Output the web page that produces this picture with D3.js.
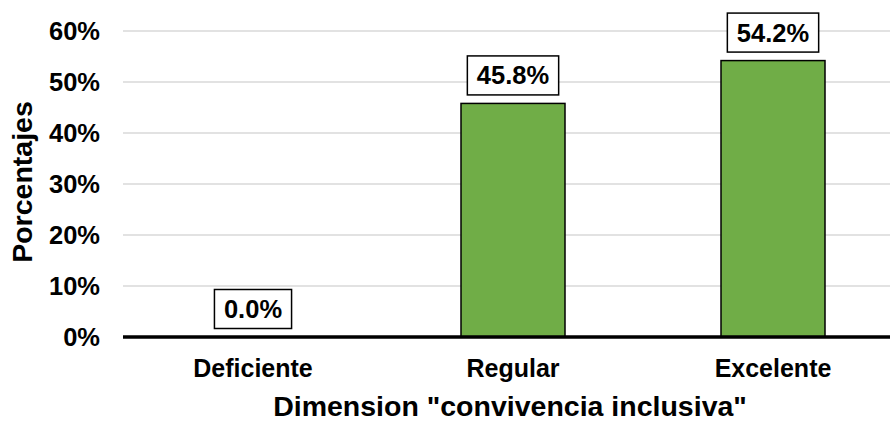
<!DOCTYPE html>
<html>
<head>
<meta charset="utf-8">
<script src="https://cdn.jsdelivr.net/npm/d3@7"></script>
<style>
html,body{margin:0;padding:0;background:#fff;}
svg{display:block;font-family:"Liberation Sans",Arial,sans-serif;font-weight:bold;}
</style>
</head>
<body>
<svg id="chart" width="890" height="421"></svg>
<script>
const categories = ["Deficiente", "Regular", "Excelente"];
const values = [0.0, 45.8, 54.2];
const tickValues = [0, 10, 20, 30, 40, 50, 60];
const yTitle = "Porcentajes";
const xTitle = 'Dimension "convivencia inclusiva"';

(function() {
const svg = d3.select("#chart");
const W = 890;
const mLeft = 123, mRight = 903, mTop = 31, mBottom = 337;

const x = d3.scaleBand().domain(categories).range([mLeft, mRight])
  .paddingInner(0.6).paddingOuter(0.3);
const y = d3.scaleLinear().domain([0, 60]).range([mBottom, mTop]);

// gridlines
svg.append("g").selectAll("line").data(tickValues.filter(d => d > 0)).join("line")
  .attr("x1", mLeft).attr("x2", W)
  .attr("y1", d => y(d)).attr("y2", d => y(d))
  .attr("stroke", "#d9d9d9").attr("stroke-width", 1.5);

// y tick labels
svg.append("g").selectAll("text").data(tickValues).join("text")
  .attr("x", 100).attr("y", d => y(d))
  .attr("text-anchor", "end").attr("dominant-baseline", "central")
  .attr("font-size", 25.5).attr("fill", "#000")
  .text(d => d + "%");

// bars
svg.append("g").selectAll("rect").data(categories).join("rect")
  .attr("x", d => x(d)).attr("width", x.bandwidth())
  .attr("y", (d, i) => y(values[i]))
  .attr("height", (d, i) => mBottom - y(values[i]))
  .attr("fill", "#70ad47").attr("stroke", "#000").attr("stroke-width", 1.5);

// axis line
svg.append("line").attr("x1", mLeft).attr("x2", W)
  .attr("y1", y(0)).attr("y2", y(0))
  .attr("stroke", "#000").attr("stroke-width", 3.5);

// data labels
const lbl = svg.append("g").selectAll("g").data(categories).join("g");
lbl.each(function(d, i) {
  const g = d3.select(this);
  const cx = x(d) + x.bandwidth() / 2;
  const boxBottom = y(values[i]) - 8.5;
  const boxH = 39;
  const t = g.append("text")
    .attr("x", cx).attr("y", boxBottom - boxH / 2)
    .attr("text-anchor", "middle").attr("dominant-baseline", "central")
    .attr("font-size", 25.5).attr("fill", "#000")
    .text(values[i].toFixed(1) + "%");
  const tw = t.node().getComputedTextLength();
  g.insert("rect", "text")
    .attr("x", cx - tw / 2 - 9.5).attr("width", tw + 19)
    .attr("y", boxBottom - boxH).attr("height", boxH)
    .attr("fill", "#fff").attr("stroke", "#000").attr("stroke-width", 1.5);
});

// category labels
svg.append("g").selectAll("text").data(categories).join("text")
  .attr("x", d => x(d) + x.bandwidth() / 2).attr("y", 377)
  .attr("text-anchor", "middle")
  .attr("font-size", 25).attr("fill", "#000")
  .text(d => d);

// x title
svg.append("text").attr("x", 510).attr("y", 416)
  .attr("text-anchor", "middle").attr("font-size", 28.5).attr("fill", "#000")
  .text(xTitle);

// y title
svg.append("text").attr("transform", "translate(32,182) rotate(-90)")
  .attr("text-anchor", "middle").attr("font-size", 28.5).attr("fill", "#000")
  .text(yTitle);
})();
</script>
</body>
</html>
